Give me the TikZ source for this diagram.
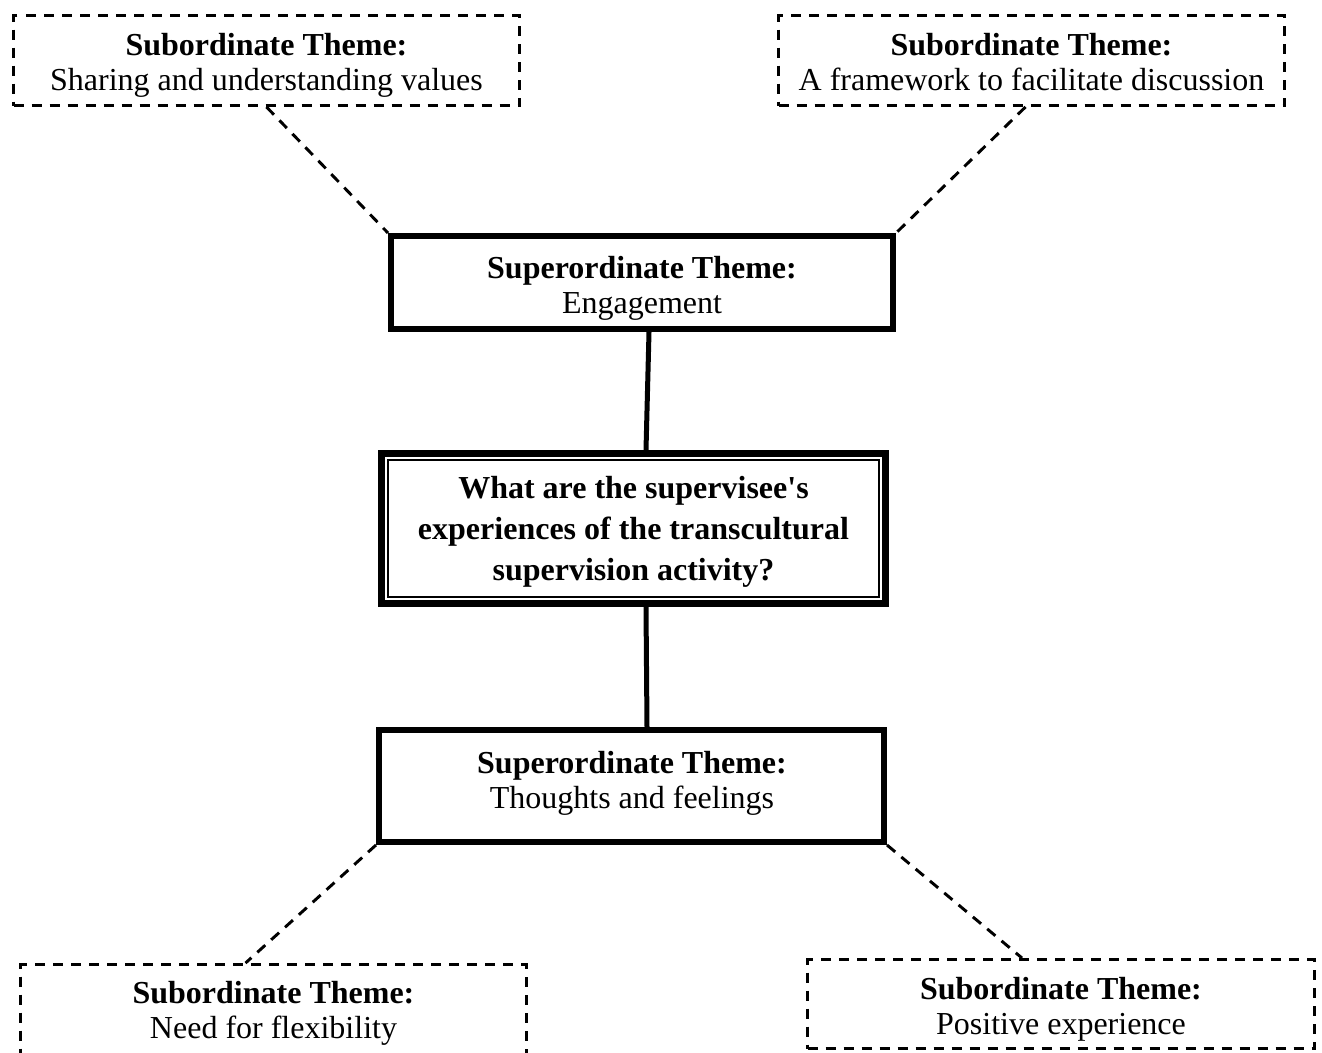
\documentclass[tikz,border=0pt]{standalone}
\usepackage{fontspec}
\setmainfont{Liberation Serif}
\begin{document}
\begin{tikzpicture}[x=0.75pt,y=-0.75pt,
  txt/.style={font=\fontsize{24}{26.3}\selectfont, align=center, inner sep=0pt},
  qtxt/.style={font=\fontsize{24}{30.8}\selectfont\bfseries, align=center, inner sep=0pt},
  subbox/.style={draw, line width=2.2pt, dash pattern=on 7.5pt off 6pt, inner sep=0pt},
  supbox/.style={draw, line width=4.5pt, inner sep=0pt},
  qbox/.style={draw, line width=5.25pt, inner sep=0pt},
  dashline/.style={line width=2.2pt, dash pattern=on 8pt off 6pt},
  solidline/.style={line width=3.75pt}]
\useasboundingbox (0,0) rectangle (1322,1053);
\clip (0,0) rectangle (1322,1053);
% boxes
\node[subbox, minimum width=379.5pt, minimum height=67.5pt] (tl) at (266.5,60.5) {};
\node[subbox, minimum width=379.5pt, minimum height=67.5pt] (tr) at (1031.5,60.5) {};
\node[supbox, minimum width=376.5pt, minimum height=69.75pt] (eng) at (642,282.5) {};
\node[qbox, minimum width=378pt, minimum height=112.5pt] (q) at (633.5,528.5) {};
\draw[line width=1.3pt] ([shift={(10,10)}]q.north west) rectangle ([shift={(-10,-10)}]q.south east);
\node[supbox, minimum width=378.75pt, minimum height=84pt] (th) at (631.5,786) {};
\node[subbox, minimum width=379.5pt, minimum height=69pt] (bl) at (273.5,1010.5) {};
\node[subbox, minimum width=380.25pt, minimum height=66.75pt] (br) at (1061,1004) {};
% texts
\node[txt] (tltxt) at (266.5,65.5) {\textbf{Subordinate Theme:}\\Sharing and understanding values};
\node[txt] (trtxt) at (1031.5,62.5) {\textbf{Subordinate Theme:}\\A framework to facilitate discussion};
\node[txt] (engtxt) at (642,288) {\textbf{Superordinate Theme:}\\Engagement};
\node[qtxt] (qtxt) at (633.5,531.5) {What are the supervisee\textquotesingle s\\experiences of the transcultural\\supervision activity?};
\node[txt] (thtxt) at (632,783) {\textbf{Superordinate Theme:}\\Thoughts and feelings};
\node[txt] (bltxt) at (273.5,1013.5) {\textbf{Subordinate Theme:}\\Need for flexibility};
\node[txt] (brtxt) at (1061,1009.5) {\textbf{Subordinate Theme:}\\Positive experience};
% connectors
\draw[dashline] (tl.south) -- (eng.north west);
\draw[dashline] ([shift={(-6,0)}]tr.south) -- (eng.north east);
\draw[solidline] ([shift={(7,0)}]eng.south) -- ([shift={(12.5,0)}]q.north);
\draw[solidline] ([shift={(12.5,0)}]q.south) -- ([shift={(15.5,0)}]th.north);
\draw[dashline] (th.south west) -- ([shift={(-28,0)}]bl.north);
\draw[dashline] (th.south east) -- ([shift={(-39,0)}]br.north);
\end{tikzpicture}
\end{document}
